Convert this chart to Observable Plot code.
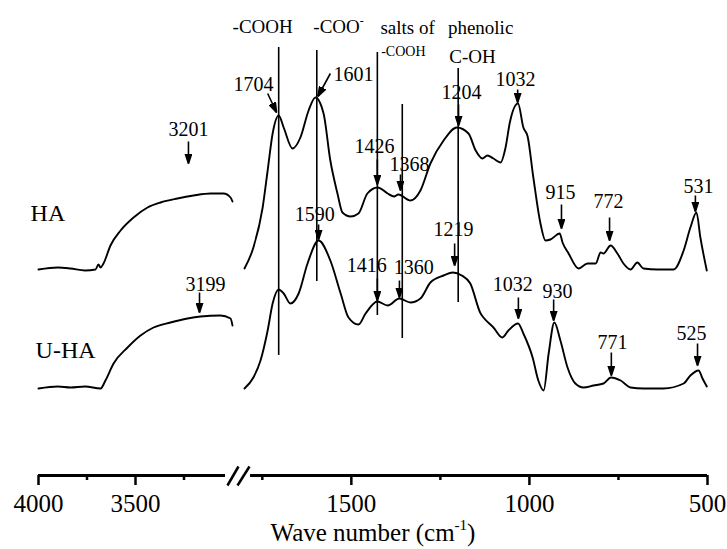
<!DOCTYPE html>
<html><head><meta charset="utf-8">
<script src="https://cdn.jsdelivr.net/npm/d3@7"></script>
<script src="https://cdn.jsdelivr.net/npm/@observablehq/plot@0.6"></script>
<style>body{margin:0;background:#fff} svg text{font-family:'Liberation Serif','Times New Roman',serif}</style>
</head><body><div id="chart"></div>
<script>
// ---- spectra: [wavenumber (cm-1), intensity (a.u., offset)] ----
const haHigh = [[4000,41.2],[3900,41.6],[3835,41.4],[3760,41.0],[3706,41.2],[3691,42.2],[3680,41.6],[3665,42.4],[3629,46],[3577,49],[3510,51.6],[3438,53.6],[3371,54.6],[3284,55.4],[3201,56],[3113,56.4],[3046,56.4],[3010,55.6],[3000,54.8]];
const haLow = [[1800,41.4],[1775,45.6],[1749,53.6],[1735,61],[1721,68.4],[1704,72],[1690,69.6],[1665,65.4],[1643,67.6],[1620,73],[1601,75.6],[1578,72.4],[1559,63],[1539,56.4],[1525,52.6],[1502,51.8],[1480,52.4],[1455,56.4],[1426,57.6],[1398,56.4],[1380,55.8],[1368,56.2],[1334,55],[1306,57],[1278,62.4],[1241,67],[1204,69.6],[1171,68.4],[1151,65],[1132,63.4],[1118,64],[1101,63.4],[1081,62.6],[1067,65.6],[1055,70.6],[1032,74.4],[1017,69.6],[1005,67.8],[989,59.6],[969,50.4],[955,47],[941,47.2],[915,48.4],[907,46.6],[890,44.4],[862,41.4],[837,42.4],[814,42.4],[800,44.6],[792,44.4],[772,46],[753,44.4],[736,42.4],[716,41.2],[697,42.6],[680,41.4],[640,41.2],[595,41.2],[567,45],[548,49.6],[531,52.6],[520,47.6],[502,41]];
const uhaHigh = [[4000,17.4],[3900,17.8],[3835,17.6],[3760,17.8],[3680,17.4],[3655,19],[3613,22.4],[3541,25.6],[3474,28],[3407,29.6],[3320,30.6],[3232,31.4],[3165,31.8],[3062,32],[3010,31.4],[3000,30]];
const uhaLow = [[1800,17.4],[1775,19.6],[1755,23],[1735,29],[1721,34.4],[1704,37.2],[1690,36.4],[1671,34.4],[1648,36.4],[1623,42.4],[1592,47],[1559,43],[1530,36.4],[1508,31.6],[1480,30.2],[1460,32.4],[1427,34.8],[1398,34],[1365,35.4],[1334,34.6],[1306,35.4],[1278,38.6],[1241,40],[1215,40.6],[1190,40],[1166,38.4],[1137,32.4],[1129,31.6],[1101,29.6],[1076,27.6],[1059,29],[1032,30.4],[1017,28.4],[991,23.6],[975,19],[960,17],[946,24.4],[930,30.6],[913,27],[893,21.6],[871,18.4],[848,17.6],[820,18],[792,18.4],[771,19.6],[744,19],[716,17.6],[680,17.4],[624,17.4],[567,18.4],[548,20],[525,21],[514,19.4],[502,17.8]];

// ---- peak annotations: label, label position, arrow from -> to ----
const peakLabels = ["3201","1704","1601","1426","1368","1204","1032","915","772","531",
                    "3199","1590","1416","1360","1219","1032","930","771","525"];
const labelX = [3227,1775,1494,1435,1337,1191,1039,913,778,525, 3139,1603,1457,1325,1213,1047,921,767,545];
const labelY = [68,77,79,64.6,61,75.4,78,55.4,53.6,56.6, 37,51,40.8,40.4,48,37,35.6,25.4,27.2];
const arrowX1 = [3227,1735,1559,1427,1362,1199,1033,910,775,534, 3170,1592,1427,1365,1210,1031,932,770,528];
const arrowY1 = [66.8,76.4,80.4,63.2,60.2,74.2,77.2,54.2,51.6,56, 36.6,50.2,39.4,39,46.4,35.6,35.2,24.6,26.4];
const arrowX2 = [3227,1710,1594,1427,1362,1199,1033,910,775,534, 3170,1592,1427,1365,1210,1031,932,770,528];
const arrowY2 = [62.4,72.6,75.8,58.2,57,70,74.6,49.4,47,52.8, 32.6,47.2,35,35.6,42,31.4,31,20,22];

// ---- functional-group marker lines ----
const bandX = [1704,1597,1427,1357,1200];
const bandTop = [85.6,85,84.6,74.2,81.4];
const bandBottom = [24,38.8,32,27.4,34.6];
const groupLabels = ["-COOH","-COO-","salts of","phenolic","C-OH"];
const groupX = [1749,1536,1342,1137,1160];
const groupY = [88.6,88.6,88.4,88.4,82.6];
const subLabel = ["-COOH"]; const subX = [1354]; const subY = [84];

// ---- sample names ----
const sampleNames = ["HA","U-HA"];
const sampleX = [4041,4015];
const sampleY = [51,23.6];

// ---- broken x axis ----
const xDomain = [4000,3000,1800,500];
const majorTicks = [4000,3500,1500,1000,500];
const minorTicks = [3750,3250,1750,1250,750];
const axisPieces = [[4000,3036],[1783,500]];
const breakMarks = [[3026,-2,2400,1.8],[2500,-2,1786,1.8]];
const xTitle = "Wave number (cm-1)";

const toPts = a => a.map(([w, v]) => ({w, v}));
const idx = arr => arr.map((_, i) => i);

function solidHead(color, context) {
  const ns = "http://www.w3.org/2000/svg";
  const doc = (context && context.document) || document;
  const m = doc.createElementNS(ns, "marker");
  m.setAttribute("viewBox", "-10 -4 10 8");
  m.setAttribute("markerWidth", 10);
  m.setAttribute("markerHeight", 8);
  m.setAttribute("markerUnits", "userSpaceOnUse");
  m.setAttribute("orient", "auto");
  m.setAttribute("refX", 0);
  m.setAttribute("refY", 0);
  const p = doc.createElementNS(ns, "path");
  p.setAttribute("d", "M-10,-3.3L0,0L-10,3.3Z");
  p.setAttribute("fill", color);
  m.appendChild(p);
  return m;
}

const serif = "'Liberation Serif', 'Times New Roman', serif";
const lineOpts = {x: "w", y: "v", stroke: "black", strokeWidth: 1.9, curve: "monotone-x"};
const txt = {fontFamily: serif, lineAnchor: "bottom", fill: "black"};

const chart = Plot.plot({
  width: 727,
  height: 549,
  marginLeft: 38,
  marginRight: 20,
  marginTop: 0,
  marginBottom: 74,
  style: {fontFamily: serif, background: "white", color: "black"},
  x: {type: "linear", domain: xDomain, range: [38, 232, 244, 707]},
  y: {type: "linear", domain: [0, 95], axis: null},
  marks: [
    Plot.line(toPts(haHigh), lineOpts),
    Plot.line(toPts(haLow), lineOpts),
    Plot.line(toPts(uhaHigh), lineOpts),
    Plot.line(toPts(uhaLow), lineOpts),
    Plot.ruleX(idx(bandX), {x: i => bandX[i], y1: i => bandBottom[i], y2: i => bandTop[i], stroke: "black", strokeWidth: 1.6}),
    Plot.link(idx(arrowX1), {x1: i => arrowX1[i], y1: i => arrowY1[i], x2: i => arrowX2[i], y2: i => arrowY2[i],
      stroke: "black", strokeWidth: 1.6, markerEnd: solidHead}),
    Plot.text(idx(peakLabels), {...txt, x: i => labelX[i], y: i => labelY[i], text: i => peakLabels[i],
      fontSize: 20, textAnchor: "middle"}),
    Plot.text(idx(groupLabels), {...txt, x: i => groupX[i], y: i => groupY[i], text: i => groupLabels[i],
      fontSize: 19, textAnchor: "middle"}),
    Plot.text(idx(subLabel), {...txt, x: i => subX[i], y: i => subY[i], text: i => subLabel[i],
      fontSize: 14, textAnchor: "middle"}),
    Plot.text(idx(sampleNames), {...txt, x: i => sampleX[i], y: i => sampleY[i], text: i => sampleNames[i],
      fontSize: 24, textAnchor: "start"}),
    // axis
    Plot.ruleY(axisPieces, {y: () => 0, x1: d => d[0], x2: d => d[1], stroke: "black", strokeWidth: 3}),
    Plot.link(breakMarks, {x1: d => d[0], y1: d => d[1], x2: d => d[2], y2: d => d[3], stroke: "black", strokeWidth: 2.5}),
    Plot.axisX({ticks: majorTicks, tickSize: 10, tickPadding: 9, strokeWidth: 2.5, fontSize: 25, fontFamily: serif,
      tickFormat: d => String(d), label: null}),
    Plot.axisX({ticks: minorTicks, tickSize: 5, strokeWidth: 2.5, tickFormat: () => "", label: null}),
    Plot.text([xTitle], {...txt, text: d => d, frameAnchor: "bottom", dy: 65, fontSize: 25})
  ]
});

// superscripts
d3.select(chart).selectAll("text").each(function () {
  const t = d3.select(this);
  const s = this.textContent;
  if (s === xTitle) {
    t.text(null);
    t.append("tspan").text("Wave number (cm");
    t.append("tspan").attr("font-size", 15).attr("dy", -11).text("-1");
    t.append("tspan").attr("dy", 11).text(")");
  } else if (s === "-COO-") {
    t.text(null);
    t.append("tspan").text("-COO");
    t.append("tspan").attr("font-size", 12).attr("dy", -8).text("-");
  }
});

document.getElementById("chart").appendChild(chart);
</script></body></html>
